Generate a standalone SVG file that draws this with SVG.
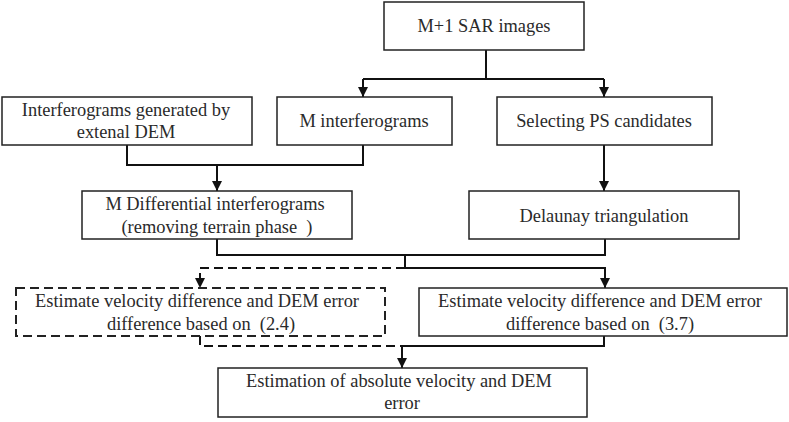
<svg xmlns="http://www.w3.org/2000/svg" width="789" height="422" viewBox="0 0 789 422">
<style>
.box{fill:#fff;stroke:#222;stroke-width:1.5}
.dbox{fill:#fff;stroke:#222;stroke-width:2;stroke-dasharray:9 5}
text{font-family:"Liberation Serif","Times New Roman",serif;font-size:18.4px;fill:#2a2a2a;text-anchor:middle}
.ln{fill:none;stroke:#111;stroke-width:2}
.dl{fill:none;stroke:#111;stroke-width:2;stroke-dasharray:9 5}
</style>
<defs>
<marker id="ah" viewBox="0 0 10 10" refX="10" refY="5" markerWidth="10" markerHeight="10" markerUnits="userSpaceOnUse" orient="auto">
<path d="M0,0 L10,5 L0,10 Z" fill="#111"/>
</marker>
</defs>
<rect width="789" height="422" fill="#fff"/>
<g id="connectors">
<path class="ln" d="M486,50 V79"/>
<path class="ln" d="M363,79 H604"/>
<path class="ln" d="M363,79 V97" marker-end="url(#ah)"/>
<path class="ln" d="M604,79 V97" marker-end="url(#ah)"/>
<path class="ln" d="M127,145 V165 H363 V145"/>
<path class="ln" d="M217,165 V191" marker-end="url(#ah)"/>
<path class="ln" d="M604,145 V191" marker-end="url(#ah)"/>
<path class="ln" d="M217,239 V255 H605 V239"/>
<path class="ln" d="M405,255 V268 H605 V288" marker-end="url(#ah)"/>
<path class="dl" d="M405,268 H200 V288" marker-end="url(#ah)"/>
<path class="dl" d="M200,336 V346 H402"/>
<path class="ln" d="M604,336 V346 H402"/>
<path class="ln" d="M402,346 V368" marker-end="url(#ah)"/>
</g>
<g id="n1"><rect class="box" x="384" y="2" width="200" height="48"/><text x="484" y="32">M+1 SAR images</text></g>
<g id="n2"><rect class="box" x="2" y="97" width="250" height="48"/><text x="126" y="116">Interferograms generated by</text><text x="126" y="138">extenal DEM</text></g>
<g id="n3"><rect class="box" x="277" y="97" width="175" height="48"/><text x="364" y="127">M interferograms</text></g>
<g id="n4"><rect class="box" x="497" y="97" width="215" height="48"/><text x="604" y="127">Selecting PS candidates</text></g>
<g id="n5"><rect class="box" x="82" y="191" width="270" height="48"/><text x="215" y="210">M Differential interferograms</text><text x="217" y="233">(removing terrain phase&#160; )</text></g>
<g id="n6"><rect class="box" x="469" y="191" width="270" height="48"/><text x="604" y="222">Delaunay triangulation</text></g>
<g id="n7"><rect class="dbox" x="16" y="288" width="369" height="48"/><text x="197" y="307">Estimate velocity difference and DEM error</text><text x="201" y="330">difference based on&#160; (2.4)</text></g>
<g id="n8"><rect class="box" x="419" y="288" width="368" height="48"/><text x="600" y="307">Estimate velocity difference and DEM error</text><text x="600" y="330">difference based on&#160; (3.7)</text></g>
<g id="n9"><rect class="box" x="218" y="368" width="369" height="49"/><text x="399" y="387">Estimation of absolute velocity and DEM</text><text x="402" y="409">error</text></g>
</svg>
